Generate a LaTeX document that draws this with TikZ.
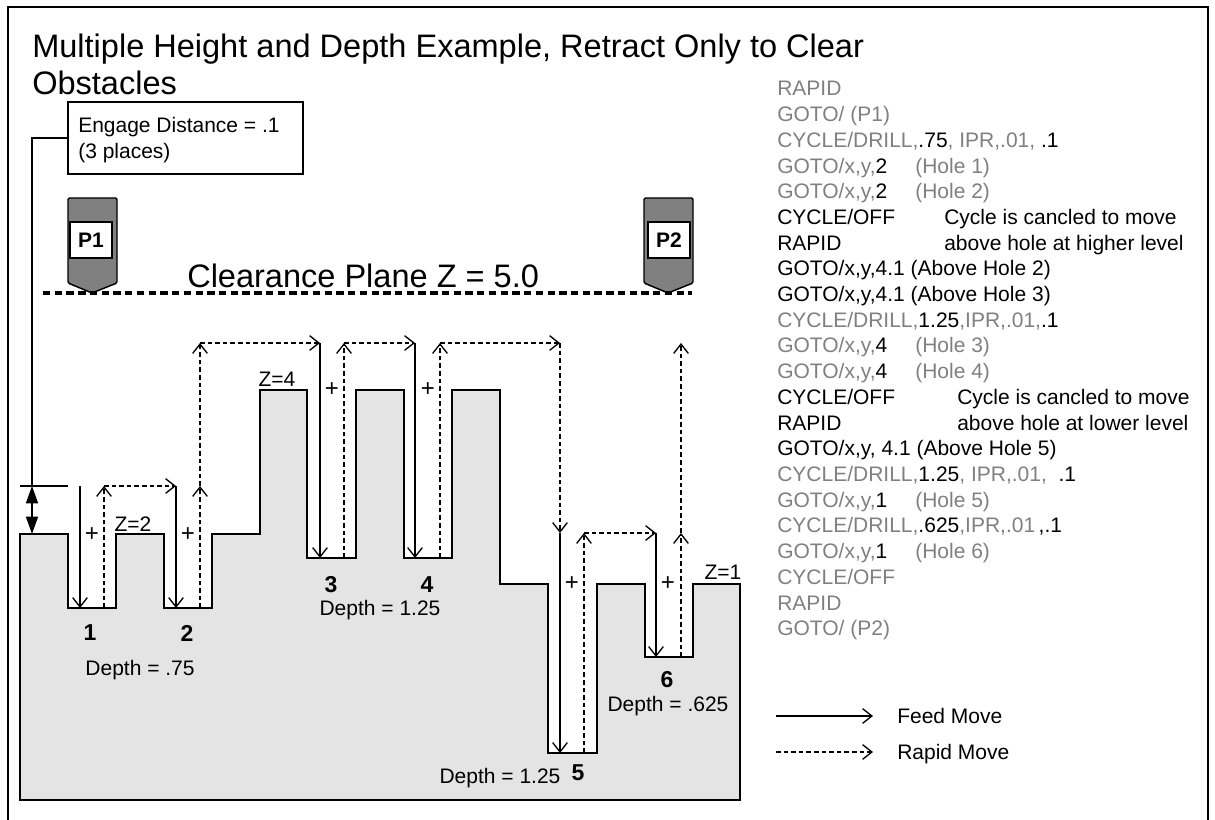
\documentclass[tikz,border=0pt]{standalone}
\usepackage{fontspec}
\setmainfont{Liberation Sans}
\usetikzlibrary{arrows.meta}
\definecolor{codegray}{RGB}{128,128,128}
\definecolor{stockfill}{RGB}{228,228,228}
\definecolor{toolfill}{RGB}{128,128,128}
\newcommand\gtx[1]{\textcolor{codegray}{#1}}
\begin{document}
\begin{tikzpicture}[x=0.75pt,y=-0.75pt,
  txt/.style={inner sep=0pt, anchor=base west, font=\fontsize{15.75pt}{18pt}\selectfont},
  ctrbase/.style={inner sep=0pt, anchor=base, font=\fontsize{15.75pt}{18pt}\selectfont},
  plus/.style={inner sep=0pt, anchor=center, font=\fontsize{18pt}{20pt}\selectfont},
  num/.style={inner sep=0pt, anchor=center, font=\fontsize{17.25pt}{19pt}\selectfont\bfseries},
  big/.style={inner sep=0pt, anchor=base west, font=\fontsize{24.4pt}{28pt}\selectfont},
  feed/.style={line width=1pt, -{Straight Barb[length=7pt,width=11pt,line width=1pt]}},
  rapid/.style={line width=1pt, dash pattern=on 3.5pt off 2.2pt, -{Straight Barb[length=7pt,width=11pt,line width=1pt]}},
  tool/.style={fill=toolfill, draw=black, line width=1.1pt, rounded corners=1pt},
  toollabel/.style={fill=white, draw=black, line width=1.1pt, minimum width=31.5pt, minimum height=27pt, inner sep=0pt, font=\fontsize{15.75pt}{18pt}\selectfont\bfseries}
]
\useasboundingbox (0,0) rectangle (1215,820);
% frame
\draw[line width=1.5pt] (8,822) -- (8,7) -- (1208,7) -- (1208,822);

% title
\node[big] (title1) at (32,58) {Multiple Height and Depth Example, Retract Only to Clear};
\node[big] (title2) at (32,95) {Obstacles};

% stock
\fill[stockfill] (20,534) -- (68,534) -- (68,608) -- (116,608) -- (116,534) -- (164,534) -- (164,608) -- (212,608) -- (212,534) -- (260,534) -- (260,390) -- (307,390) -- (307,558) -- (356,558) -- (356,390) -- (404,390) -- (404,558) -- (452,558) -- (452,390) -- (500,390) -- (500,584) -- (548,584) -- (548,753) -- (597,753) -- (597,584) -- (645,584) -- (645,657) -- (693,657) -- (693,584) -- (740,584) -- (740,800) -- (20,800) -- cycle;
\draw[line width=1.3pt, line join=miter] (20,534) -- (68,534) -- (68,608) -- (116,608) -- (116,534) -- (164,534) -- (164,608) -- (212,608) -- (212,534) -- (260,534) -- (260,390) -- (307,390) -- (307,558) -- (356,558) -- (356,390) -- (404,390) -- (404,558) -- (452,558) -- (452,390) -- (500,390) -- (500,584) -- (548,584) -- (548,753) -- (597,753) -- (597,584) -- (645,584) -- (645,657) -- (693,657) -- (693,584) -- (740,584) -- (740,800) -- (20,800) -- cycle;

% engage distance box and leader
\node[draw, line width=1pt, minimum width=176.25pt, minimum height=54pt, inner sep=0pt] (engbox) at (185.5,138) {};
\node[txt] (eng1) at (78,133) {Engage Distance = .1};
\node[txt] (eng2) at (78,159) {(3 places)};
\coordinate (e1) at (32,138);
\coordinate (e2) at (32,486);
\draw[line width=1pt] (engbox.west) -- (e1) -- (e2);
\coordinate (t1) at (20,486);
\coordinate (t2) at (68,486);
\draw[line width=1pt] (t1) -- (t2);
\coordinate (d1) at (32,486);
\coordinate (d2) at (32,534);
\draw[line width=1pt, {Triangle[length=13pt,width=9pt]}-{Triangle[length=13pt,width=9pt]}] (d1) -- (d2);

% tools
\draw[tool] (68,198) -- (117,198) -- (117,283) -- (92,293) -- (68,283) -- cycle;
\node[toollabel] (p1) at (91,240) {P1};
\draw[tool] (644,198) -- (693,198) -- (693,283) -- (668,293) -- (644,283) -- cycle;
\node[toollabel] (p2) at (669,240) {P2};

% clearance plane
\coordinate (c1) at (43,293);
\coordinate (c2) at (692,293);
\draw[line width=2.3pt, dash pattern=on 5.5pt off 3.3pt] (c1) -- (c2);
\node[big] (clear) at (187,287) {Clearance Plane Z = 5.0};

% tool path coordinates
\coordinate (a1) at (80,486);   \coordinate (b1) at (80,608);
\coordinate (r1b) at (104,608); \coordinate (r1t) at (104,486);
\coordinate (a2) at (176,486);  \coordinate (b2) at (176,608);
\coordinate (r2b) at (200,608); \coordinate (r2m) at (200,486); \coordinate (r2t) at (200,343);
\coordinate (a3) at (320,343);  \coordinate (b3) at (320,558);
\coordinate (r3b) at (344,558); \coordinate (r3t) at (344,343);
\coordinate (a4) at (415,343);  \coordinate (b4) at (415,558);
\coordinate (r4b) at (440,558); \coordinate (r4t) at (440,343);
\coordinate (a5t) at (560,343); \coordinate (a5) at (560,533); \coordinate (b5) at (560,753);
\coordinate (r5b) at (584,753); \coordinate (r5t) at (584,533);
\coordinate (a6) at (656,533);  \coordinate (b6) at (656,657);
\coordinate (r6b) at (681,657); \coordinate (r6m) at (681,533); \coordinate (r6t) at (681,343);

\draw[feed] (a1) -- (b1);
\draw[rapid] (r1b) -- (r1t);
\draw[rapid] (r1t) -- (a2);
\draw[feed] (a2) -- (b2);
\draw[rapid] (r2b) -- (r2m);
\draw[rapid] (r2m) -- (r2t);
\draw[rapid] (r2t) -- (a3);
\draw[feed] (a3) -- (b3);
\draw[rapid] (r3b) -- (r3t);
\draw[rapid] (r3t) -- (a4);
\draw[feed] (a4) -- (b4);
\draw[rapid] (r4b) -- (r4t);
\draw[rapid] (r4t) -- (a5t);
\draw[rapid] (a5t) -- (a5);
\draw[feed] (a5) -- (b5);
\draw[rapid] (r5b) -- (r5t);
\draw[rapid] (r5t) -- (a6);
\draw[feed] (a6) -- (b6);
\draw[rapid] (r6b) -- (r6m);
\draw[rapid] (r6m) -- (r6t);

% plus signs
\node[plus] (pl1) at (92,535) {+};
\node[plus] (pl2) at (188,535) {+};
\node[plus] (pl3) at (332,390) {+};
\node[plus] (pl4) at (428,390) {+};
\node[plus] (pl5) at (572,584) {+};
\node[plus] (pl6) at (668,584) {+};

% Z labels
\node[ctrbase] (z2) at (133,531) {Z=2};
\node[ctrbase] (z4) at (277,387) {Z=4};
\node[ctrbase] (z1) at (723,579) {Z=1};

% hole numbers
\node[num] (h1) at (90,633) {1};
\node[num] (h2) at (187,633) {2};
\node[num] (h3) at (331,585) {3};
\node[num] (h4) at (427,585) {4};
\node[num] (h5) at (578,773) {5};
\node[num] (h6) at (667,680) {6};

% depth labels
\node[ctrbase] (dp1) at (140,675) {Depth = .75};
\node[ctrbase] (dp2) at (380,615) {Depth = 1.25};
\node[ctrbase] (dp3) at (668,711) {Depth = .625};
\node[ctrbase] (dp4) at (500,783) {Depth = 1.25};

% code listing
\node[txt] (l1) at (777,96) {\gtx{RAPID}};
\node[txt] (l2) at (777,121.7) {\gtx{GOTO/ (P1)}};
\node[txt] (l3) at (777,147.4) {\gtx{CYCLE/DRILL,}.75\gtx{, IPR,.01, }.1};
\node[txt] (l4) at (777,173.1) {\gtx{GOTO/x,y,}2};
\node[txt] (l4b) at (915,173.1) {\gtx{(Hole 1)}};
\node[txt] (l5) at (777,198.8) {\gtx{GOTO/x,y,}2};
\node[txt] (l5b) at (915,198.8) {\gtx{(Hole 2)}};
\node[txt] (l6) at (777,224.5) {CYCLE/OFF};
\node[txt] (l6b) at (944,224.5) {Cycle is cancled to move};
\node[txt] (l7) at (777,250.2) {RAPID};
\node[txt] (l7b) at (944,250.2) {above hole at higher level};
\node[txt] (l8) at (777,275.9) {GOTO/x,y,4.1 (Above Hole 2)};
\node[txt] (l9) at (777,301.6) {GOTO/x,y,4.1 (Above Hole 3)};
\node[txt] (l10) at (777,327.3) {\gtx{CYCLE/DRILL,}1.25\gtx{,IPR,.01,}.1};
\node[txt] (l11) at (777,353) {\gtx{GOTO/x,y,}4};
\node[txt] (l11b) at (915,353) {\gtx{(Hole 3)}};
\node[txt] (l12) at (777,378.7) {\gtx{GOTO/x,y,}4};
\node[txt] (l12b) at (915,378.7) {\gtx{(Hole 4)}};
\node[txt] (l13) at (777,404.4) {CYCLE/OFF};
\node[txt] (l13b) at (957,404.4) {Cycle is cancled to move};
\node[txt] (l14) at (777,430.1) {RAPID};
\node[txt] (l14b) at (957,430.1) {above hole at lower level};
\node[txt] (l15) at (777,455.8) {GOTO/x,y, 4.1 (Above Hole 5)};
\node[txt] (l16) at (777,481.5) {\gtx{CYCLE/DRILL,}1.25\gtx{, IPR,.01, }\ .1};
\node[txt] (l17) at (777,507.2) {\gtx{GOTO/x,y,}1};
\node[txt] (l17b) at (915,507.2) {\gtx{(Hole 5)}};
\node[txt] (l18) at (777,532.9) {\gtx{CYCLE/DRILL,}.625\gtx{,IPR,.01}\,,.1};
\node[txt] (l19) at (777,558.6) {\gtx{GOTO/x,y,}1};
\node[txt] (l19b) at (915,558.6) {\gtx{(Hole 6)}};
\node[txt] (l20) at (777,584.3) {\gtx{CYCLE/OFF}};
\node[txt] (l21) at (777,610) {\gtx{RAPID}};
\node[txt] (l22) at (777,635.7) {\gtx{GOTO/ (P2)}};

% legend
\coordinate (lf1) at (776,716); \coordinate (lf2) at (873,716);
\coordinate (lr1) at (776,752); \coordinate (lr2) at (873,752);
\draw[feed] (lf1) -- (lf2);
\draw[rapid] (lr1) -- (lr2);
\node[txt] (lgf) at (897,723) {Feed Move};
\node[txt] (lgr) at (897,759) {Rapid Move};
\end{tikzpicture}
\end{document}
